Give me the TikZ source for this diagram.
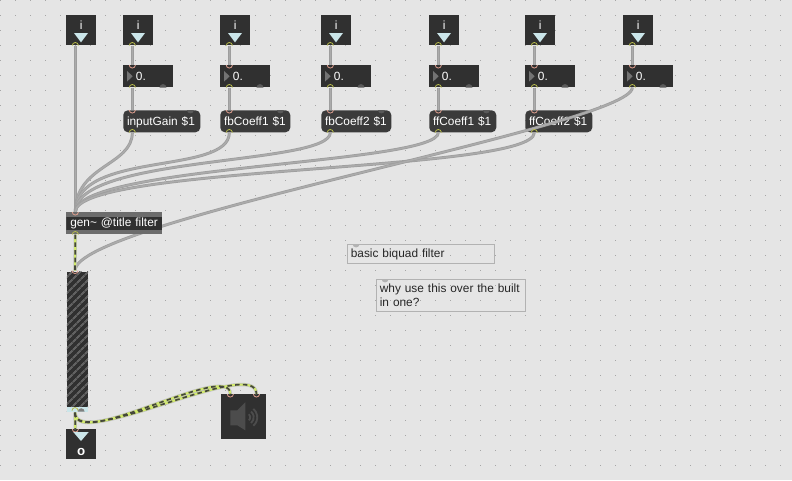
\documentclass[tikz,border=0pt]{standalone}
\usepackage{fontspec}
\setmainfont{Liberation Sans}
\usetikzlibrary{patterns.meta}
\definecolor{patchbg}{HTML}{E5E5E5}
\definecolor{griddot}{HTML}{A6A6A6}
\definecolor{boxdark}{HTML}{303030}
\definecolor{msgdark}{HTML}{3B3B3B}
\definecolor{genband}{HTML}{6C6C6C}
\definecolor{cordgray}{HTML}{ABABAB}
\definecolor{cordedge}{HTML}{9E9E9E}
\definecolor{sigyellow}{HTML}{D2EA6E}
\definecolor{sigdark}{HTML}{44463C}
\definecolor{icetri}{HTML}{CBE6EA}
\definecolor{outcolor}{HTML}{B8BC4C}
\definecolor{incolor}{HTML}{E0A090}
\pgfdeclarelayer{back}
\pgfdeclarelayer{cords}
\pgfsetlayers{back,cords,main}
\tikzset{
    maxfont/.style={font=\fontsize{8.9}{10.5}\selectfont},
    portbox/.style={anchor=north west, fill=boxdark, inner sep=0pt, minimum width=22.5pt, minimum height=22.5pt, text=white, maxfont, text height=10.5pt, text depth=12pt},
    numbox/.style={anchor=north west, fill=boxdark, inner ysep=0pt, inner xsep=9.5pt, text width=18.5pt, align=left, text=white, maxfont, text height=11.25pt, text depth=5.25pt},
    msgbox/.style={anchor=north west, fill=msgdark, rounded corners=3.5pt, inner ysep=0pt, inner xsep=2.8pt, text width=#1, align=left, text=white, maxfont, text height=11.25pt, text depth=5.25pt},
    genbox/.style={anchor=north west, fill=genband, inner ysep=0pt, inner xsep=3pt, text width=66pt, align=left, text=white, maxfont, text height=10.9pt, text depth=5.6pt,
        path picture={\fill[boxdark] ([yshift=-3.5pt]path picture bounding box.north west) rectangle ([yshift=3.3pt]path picture bounding box.south east);}},
    notebox/.style={anchor=north west, draw=black!30, line width=0.75pt, inner ysep=0pt, inner xsep=2.5pt, text width=#1, align=left, text=black!85, maxfont},
    cord/.style={draw=cordedge, double=cordgray, double distance=1.1pt, line width=0.55pt},
    sigbase/.style={draw=black!25, line width=2.5pt},
    sigfill/.style={draw=sigyellow, line width=1.6pt},
    sigdash/.style={draw=sigdark, line width=1.25pt, dash pattern=on 3.4pt off 2.4pt},
    outport/.style={draw=outcolor, line width=0.6pt},
    inport/.style={draw=incolor, line width=0.6pt}
}
\begin{document}
\begin{tikzpicture}[x=0.75pt, y=-0.75pt]
    \useasboundingbox (0,0) rectangle (792,480);
    \begin{pgfonlayer}{back}
        \fill[patchbg] (0,0) rectangle (792,480);
        \foreach \gx in {0,15,...,780}
            \foreach \gy in {0,15,...,465}
                \fill[griddot] (\gx,\gy) rectangle ++(1.2,1.2);

        \node[portbox] (in0) at (66,15) {i};
        \node[portbox] (in1) at (123,15) {i};
        \node[portbox] (in2) at (220,15) {i};
        \node[portbox] (in3) at (321,15) {i};
        \node[portbox] (in4) at (429,15) {i};
        \node[portbox] (in5) at (525,15) {i};
        \node[portbox] (in6) at (623,15) {i};

        \node[numbox] (num1) at (123,65) {0.};
        \node[numbox] (num2) at (220,65) {0.};
        \node[numbox] (num3) at (321,65) {0.};
        \node[numbox] (num4) at (429,65) {0.};
        \node[numbox] (num5) at (525,65) {0.};
        \node[numbox] (num6) at (623,65) {0.};

        \node[msgbox=52.15pt] (msg1) at (123,110) {inputGain \$1};
        \node[msgbox=46.9pt] (msg2) at (220,110) {fbCoeff1 \$1};
        \node[msgbox=46.9pt] (msg3) at (321,110) {fbCoeff2 \$1};
        \node[msgbox=44.65pt] (msg4) at (429,110) {ffCoeff1 \$1};
        \node[msgbox=44.65pt] (msg5) at (525,110) {ffCoeff2 \$1};

        \foreach \n in {in0,in1,in2,in3,in4,in5,in6}
            \fill[icetri] ([shift={(6pt,-13.5pt)}]\n.north west) -- ([shift={(16.5pt,-13.5pt)}]\n.north west) -- ([shift={(11.25pt,-20.5pt)}]\n.north west) -- cycle;
        \foreach \n in {num1,num2,num3,num4,num5,num6} {
            \fill[black!55] ([shift={(3pt,4pt)}]\n.west) -- ([shift={(7.3pt,0pt)}]\n.west) -- ([shift={(3pt,-4pt)}]\n.west) -- cycle;
            \fill[black!65] ([xshift=27.4pt]\n.south west) arc[start angle=180, end angle=0, radius=2.6pt];
        }
        \foreach \n in {msg1,msg2,msg3,msg4,msg5}
            \fill[black!65] ([xshift=-10.2pt]\n.north east) arc[start angle=180, end angle=360, radius=2.6pt];
    \end{pgfonlayer}

    \node[genbox] (gen) at (66,212) {gen\textasciitilde{} @title filter};
    \node[anchor=north west, inner sep=0pt, minimum width=16pt, minimum height=105pt, preaction={fill=boxdark},
        pattern={Lines[angle=45, distance=4pt, line width=1.6pt]}, pattern color=black!62] (meter) at (65.7,270.5) {};
    \node[portbox, text height=19.6pt, text depth=2.9pt] (outlet) at (66,429) {\textbf{\fontsize{10}{10}\selectfont o}};
    \node[anchor=north west, fill=boxdark, inner sep=0pt, minimum width=33.75pt, minimum height=33.75pt] (dac) at (221,394) {};
    \node[anchor=north west, draw=black!30, line width=0.75pt, inner ysep=3pt, inner xsep=2.5pt, text=black!85, maxfont, text width=105.5pt, align=left, text height=7pt, text depth=1.5pt] (note1) at (347,244) {basic biquad filter};
    \node[notebox=106.5pt, inner ysep=3.4pt] (note2) at (376,279) {\mbox{why use this over the built}\\in one?};

    \begin{pgfonlayer}{cords}
        \draw[cord] ([xshift=7pt]in0.south west) -- ([xshift=7pt]gen.north west);
        \foreach \k in {1,...,5} {
            \draw[cord] ([xshift=7pt]in\k.south west) -- ([xshift=7pt]num\k.north west);
            \draw[cord] ([xshift=7pt]num\k.south west) -- ([xshift=7pt]msg\k.north west);
        }
        \draw[cord] ([xshift=7pt]in6.south west) -- ([xshift=7pt]num6.north west);
        \draw[cord] ([xshift=7pt]msg1.south west) .. controls +(0,33) and +(0,-47) .. ([xshift=7pt]gen.north west);
        \draw[cord] ([xshift=7pt]msg2.south west) .. controls +(0,43) and +(0,-62) .. ([xshift=7pt]gen.north west);
        \draw[cord] ([xshift=7pt]msg3.south west) .. controls +(0,33) and +(0,-57) .. ([xshift=7pt]gen.north west);
        \draw[cord] ([xshift=7pt]msg4.south west) .. controls +(0,32) and +(0,-47) .. ([xshift=7pt]gen.north west);
        \draw[cord] ([xshift=7pt]msg5.south west) .. controls +(0,40) and +(0,-47) .. ([xshift=7pt]gen.north west);
        \draw[cord] ([xshift=7pt]num6.south west) .. controls +(0,38) and +(0,-50) .. ([xshift=7pt]meter.north west);
    \end{pgfonlayer}

    % meter foot
    \fill[icetri] ([shift={(0.7pt,0.7pt)}]meter.south west) rectangle ([shift={(-0.7pt,4.2pt)}]meter.south east);
    \fill[black!50] ([shift={(9pt,0.7pt)}]meter.south west) arc[start angle=180, end angle=0, radius=2.6pt];

    % speaker
    \begin{scope}[shift={(dac.center)}]
        \fill[black!70] (-13.5,-6.5) -- (-6.5,-6.5) -- (1.5,-14.5) -- (1.5,13.5) -- (-6.5,8.5) -- (-13.5,8.5) -- cycle;
        \draw[black!70, line width=1.4pt] (5.07,3.56) arc[start angle=-50, end angle=50, radius=3pt];
        \draw[black!70, line width=1.4pt] (7.3,6.25) arc[start angle=-50, end angle=50, radius=5.6pt];
        \draw[black!70, line width=1.4pt] (9.57,8.93) arc[start angle=-50, end angle=50, radius=8.25pt];
    \end{scope}

    \fill[black!30] ([xshift=4.2pt]note1.north west) arc[start angle=180, end angle=360, radius=2.6pt];
    \fill[black!30] ([xshift=4.2pt]note2.north west) arc[start angle=180, end angle=360, radius=2.6pt];

    % signal cords, three passes each
    \foreach \lay in {sigbase,sigfill,sigdash} {
        \draw[\lay] ([xshift=7pt]gen.south west) -- ([xshift=7pt]meter.north west);
        \draw[\lay] ([xshift=7pt]meter.south west) -- ([xshift=7pt]outlet.north west);
        \draw[\lay] ([xshift=7pt]meter.south west) .. controls +(0,39) and +(0,-34) .. ([xshift=7pt]dac.north west);
        \draw[\lay] ([xshift=7pt]meter.south west) .. controls +(0,39) and +(0,-39) .. ([xshift=26.6pt]dac.north west);
    }

    \foreach \n in {in0,in1,in2,in3,in4,in5,in6,num1,num2,num3,num4,num5,num6,msg1,msg2,msg3,msg4,msg5,gen}
        \draw[outport] ([xshift=4.7pt]\n.south west) arc[start angle=180, end angle=0, radius=2.3pt];
    \draw[outport] ([xshift=4.7pt,yshift=1.5pt]meter.south west) arc[start angle=180, end angle=0, radius=2.3pt];
    \foreach \n in {num1,num2,num3,num4,num5,num6,msg1,msg2,msg3,msg4,msg5,gen,meter,outlet}
        \draw[inport] ([xshift=4.7pt]\n.north west) arc[start angle=180, end angle=360, radius=2.3pt];
    \draw[inport] ([xshift=4.7pt]dac.north west) arc[start angle=180, end angle=360, radius=2.3pt];
    \draw[inport] ([xshift=24.3pt]dac.north west) arc[start angle=180, end angle=360, radius=2.3pt];

    % outlet triangle
    \fill[icetri] ([shift={(5.6pt,-2.4pt)}]outlet.north west) -- ([shift={(16.9pt,-2.4pt)}]outlet.north west) -- ([shift={(11.25pt,-9pt)}]outlet.north west) -- cycle;
\end{tikzpicture}
\end{document}
